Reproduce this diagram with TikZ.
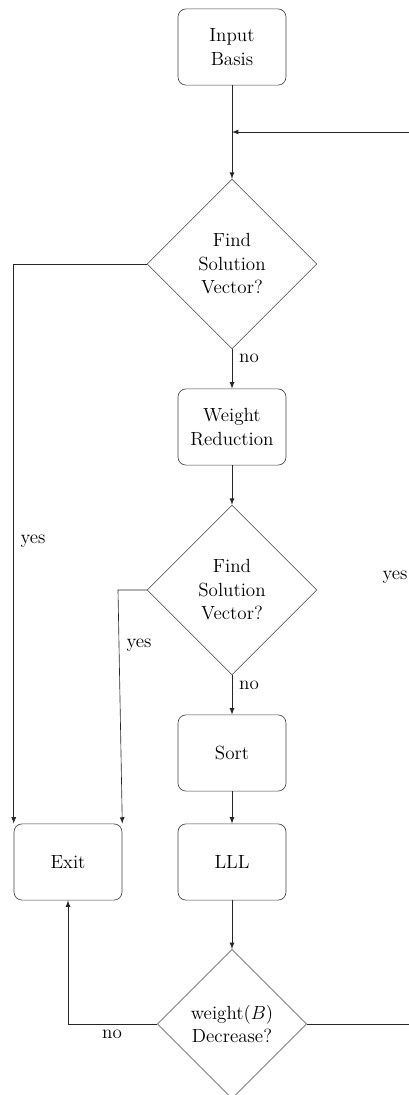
\documentclass[tikz,border=0pt]{standalone}
\usetikzlibrary{shapes.geometric}
\begin{document}
\begin{tikzpicture}[x=0.63pt,y=-0.63pt,
    block/.style={draw=black!75, rounded corners=5pt, minimum width=68pt, minimum height=48pt, align=center, font=\fontsize{12}{14.8}\selectfont},
    decision/.style={draw=black!75, diamond, inner sep=0pt, align=center, font=\fontsize{12}{14.8}\selectfont},
    arrow/.style={draw=black!85, -latex},
    lbl/.style={font=\fontsize{12}{14}\selectfont}]
    \useasboundingbox (0,0) rectangle (409,1095);
    % 方框
    \node[block] (input) at (232,47) {Input\\Basis};
    \node[block] (reduce) at (232,427) {Weight\\Reduction};
    \node[block] (sort) at (232,753) {Sort};
    \node[block] (lll) at (232,862) {LLL};
    \node[block] (exit) at (68,862) {Exit};
    
    % 判断
    \node[decision, minimum width=107pt, minimum height=107pt] (find1) at (232,264) {Find\\Solution\\Vector?};
    \node[decision, minimum width=107pt, minimum height=107pt] (find2) at (232,590) {Find\\Solution\\Vector?};
    \node[decision, minimum width=94pt, minimum height=94pt] (decr) at (232,1024) {weight$(B)$\\Decrease?};
    
    % 主流程
    \coordinate (merge) at (232,132);
    \coordinate (loop) at (440,132);
    \draw[arrow] (input) -- (find1);
    \draw[arrow] (find1) -- (reduce);
    \draw[arrow] (reduce) -- (find2);
    \draw[arrow] (find2) -- (sort);
    \draw[arrow] (sort) -- (lll);
    \draw[arrow] (lll) -- (decr);
    
    % 回路（右侧）
    \draw[arrow] (decr.east) -- (decr.east -| loop) -- (loop) -- (merge);
    
    % 退出
    \coordinate (bend) at (118,590);
    \draw[arrow] (find1.west) -| (exit.north west);
    \draw[arrow] (find2.west) -- (bend) -- (exit.north east);
    \draw[arrow] (decr.west) -| (exit.south);
    
    % 标注
    \node[lbl] (no1) at (249,358) {no};
    \node[lbl] (no2) at (249,685) {no};
    \node[lbl] (no3) at (112,1034) {no};
    \node[lbl] (yes1) at (33,541) {yes};
    \node[lbl] (yes2) at (139,645) {yes};
    \node[lbl] (yes3) at (395,577) {yes};
\end{tikzpicture}
\end{document}
